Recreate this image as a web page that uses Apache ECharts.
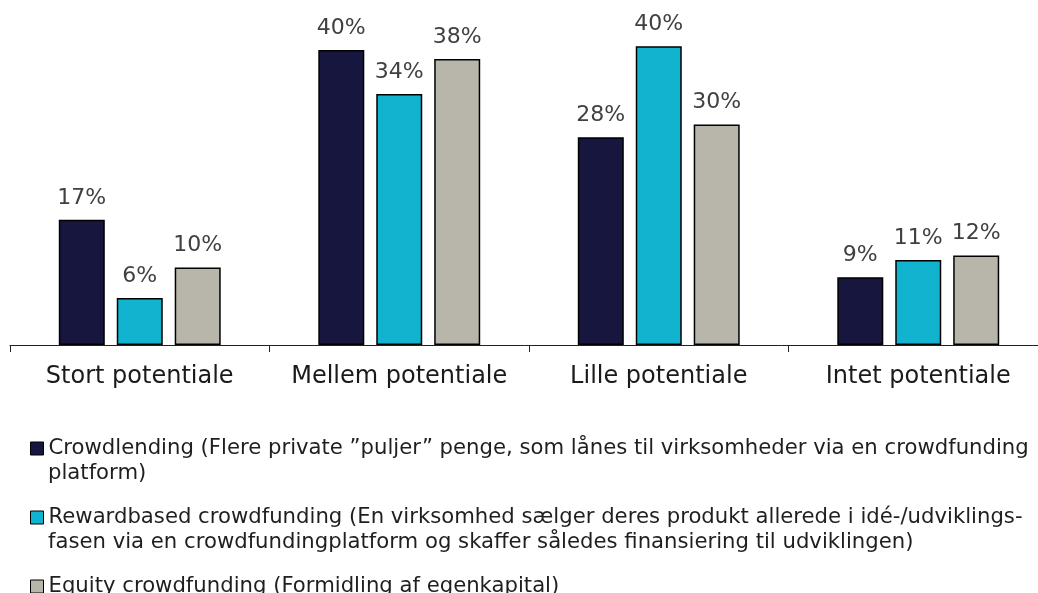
<!DOCTYPE html>
<html><head><meta charset="utf-8">
<script src="https://cdn.jsdelivr.net/npm/echarts@6/dist/echarts.min.js"></script>
<style>html,body{margin:0;padding:0;background:#fff}#c{width:1038px;height:593px}</style>
</head><body><div id="c"></div>
<script>
const categories = ['Stort potentiale', 'Mellem potentiale', 'Lille potentiale', 'Intet potentiale'];
const seriesNames = [
  'Crowdlending (Flere private \u201dpuljer\u201d penge, som lånes til virksomheder via en crowdfunding',
  'Rewardbased crowdfunding (En virksomhed sælger deres produkt allerede i idé-/udviklings-',
  'Equity crowdfunding (Formidling af egenkapital)'
];
const legendLine2 = [
  'platform)',
  'fasen via en crowdfundingplatform og skaffer således finansiering til udviklingen)',
  ''
];
const crowdlending = [16.8, 39.6, 27.9, 9.1];
const rewardbased = [6.3, 33.7, 40.1, 11.4];
const equity = [10.4, 38.4, 29.6, 12.0];
const colors = ['#16163f', '#12b3cf', '#b8b6aa'];
const legendTops = [438, 507, 576];

const font = 'DejaVu Sans, Verdana, sans-serif';
const chart = echarts.init(document.getElementById('c'));
const dataSets = [crowdlending, rewardbased, equity];

chart.setOption({
  animation: false,
  grid: {left: 10, top: 9.75, width: 1038, height: 335.25, containLabel: false, outerBoundsMode: 'none'},
  xAxis: {
    type: 'category', data: categories,
    axisLine: {lineStyle: {color: '#222', width: 1}},
    axisTick: {show: true, interval: 0, length: 7, lineStyle: {color: '#222'}},
    axisLabel: {interval: 0, color: '#1a1a1a', fontSize: 24, fontFamily: font, margin: 20}
  },
  yAxis: {type: 'value', min: 0, max: 45, show: false, splitLine: {show: false}},
  legend: seriesNames.map((n, i) => ({
    data: [n], left: 30, top: legendTops[i], orient: 'vertical', padding: 0,
    icon: 'rect', itemWidth: 13, itemHeight: 13,
    itemStyle: {borderColor: '#000', borderWidth: 1},
    textStyle: {fontSize: 21.2, fontFamily: font, color: '#1f1f1f', lineHeight: 21},
    selectedMode: false
  })),
  graphic: legendLine2.filter(t => t).map((t, i) => ({
    type: 'text', left: 48, top: legendTops[i] + 25,
    style: {text: t, font: '21.2px ' + font, fill: '#1f1f1f'}
  })),
  series: seriesNames.map((n, i) => ({
    name: n, type: 'bar', data: dataSets[i],
    barWidth: 46, barGap: '26%',
    itemStyle: {color: colors[i], borderColor: '#000', borderWidth: 1.5},
    label: {
      show: true, position: 'top', distance: 11,
      fontSize: 22, fontFamily: font, color: '#404040',
      formatter: p => Math.round(p.value) + '%'
    }
  }))
});
</script></body></html>
